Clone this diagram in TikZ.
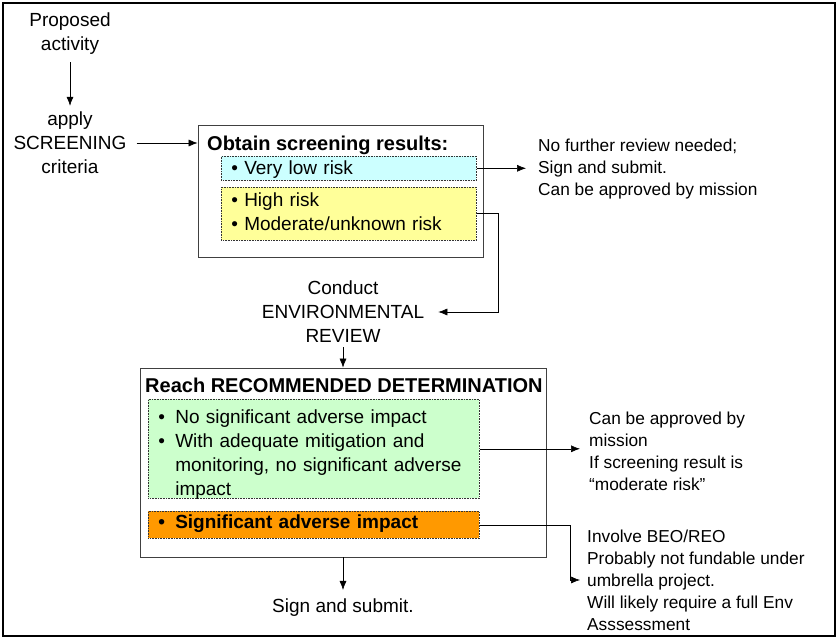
\documentclass[tikz,border=0pt]{standalone}
\usepackage{fontspec}
\setmainfont{Liberation Sans}
\usepackage{tikz}
\usetikzlibrary{arrows,arrows.meta}

\definecolor{lowrisk}{HTML}{CCFFFF}
\definecolor{highrisk}{HTML}{FFFF99}
\definecolor{noimpact}{HTML}{CCFFCC}
\definecolor{impact}{HTML}{FF9900}

\newcommand{\itm}{\makebox[17pt][l]{\textbullet}}
\newcommand{\ind}{\hspace*{17pt}}

\begin{document}
\begin{tikzpicture}[x=1pt, y=-1pt, inner sep=0pt]
    \tikzstyle{txt}=[align=center, inner sep=4pt, font=\fontsize{19}{24}\selectfont]
    \tikzstyle{head}=[anchor=west, font=\fontsize{20}{24}\selectfont\bfseries]
    \tikzstyle{side}=[align=left, anchor=west, font=\fontsize{17.3}{22}\selectfont]
    \tikzstyle{frame}=[rectangle, draw=black!75, line width=0.8pt]
    \tikzstyle{pane}=[rectangle, draw=black!80, densely dotted, line width=0.6pt, align=left, anchor=north west,
                      inner xsep=10pt, inner ysep=0pt, font=\fontsize{19}{24}\selectfont]
    \tikzstyle{link}=[->, >={Latex[length=9pt,width=7pt]}, line width=0.6pt]

    \useasboundingbox (0,0) rectangle (838,639);
    \draw[line width=1.6pt] (3,3) rectangle (835,636);

    \node[txt] (prop) at (70,34) {Proposed\\activity};
    \node[txt] (apply) at (70,143) {apply\\SCREENING\\criteria};

    % screening
    \node[frame, minimum width=285pt, minimum height=132pt] (scr) at (340.5,191) {};
    \node[head] (scrtitle) at (207,145) {Obtain screening results:};
    \node[pane, fill=lowrisk, text width=235pt, text height=18.5pt, text depth=5.5pt] (vlow) at (221,156)
        {\textbullet\ Very low risk};
    \node[pane, fill=highrisk, text width=235pt, text height=19.5pt, text depth=33.5pt] (high) at (221,187)
        {\textbullet\ High risk\\\textbullet\ Moderate/unknown risk};
    \node[side] (nofur) at (538,169) {No further review needed;\\Sign and submit.\\Can be approved by mission};

    \node[txt] (env) at (343,312) {Conduct\\ENVIRONMENTAL\\REVIEW};

    % determination
    \node[frame, minimum width=406pt, minimum height=189pt] (det) at (343,462.5) {};
    \node[head] (dettitle) at (145,385) {Reach RECOMMENDED DETERMINATION};
    \node[pane, fill=noimpact, text width=311pt, text height=24.5pt, text depth=74.5pt] (green) at (148,399)
        {\itm No significant adverse impact\\\itm With adequate mitigation and\\\ind monitoring, no significant adverse\\\ind impact};
    \node[pane, fill=impact, text width=311pt, text height=17.5pt, text depth=9.5pt, font=\fontsize{19}{24}\selectfont\bfseries] (orange) at (148,511)
        {\itm Significant adverse impact};
    \node[side] (appr) at (589,451) {Can be approved by\\mission\\If screening result is\\“moderate risk”};
    \node[side] (beo) at (587,580) {Involve BEO/REO\\Probably not fundable under\\umbrella project.\\Will likely require a full Env\\Asssessment};

    \node[txt] (sign) at (343,608) {Sign and submit.};

    \draw[link, shorten <=3pt, shorten >=2pt] (prop) -- (apply);
    \draw[link, shorten <=6pt] (apply) -- (scr.west |- apply);
    \draw[link, shorten >=12pt] (vlow.east) -- (nofur.west |- vlow.east);
    \draw[link, shorten >=10pt] (high.east) -- ++(22,0) |- (env.east);
    \draw[link] (env) -- (det);
    \draw[link, shorten >=9pt] (green.east) -- (appr.west |- green.east);
    \draw[link, shorten >=7pt] (orange.east) -- ++(91,0) |- (beo.west);
    \draw[link, shorten >=5pt] (det) -- (sign);
\end{tikzpicture}
\end{document}
